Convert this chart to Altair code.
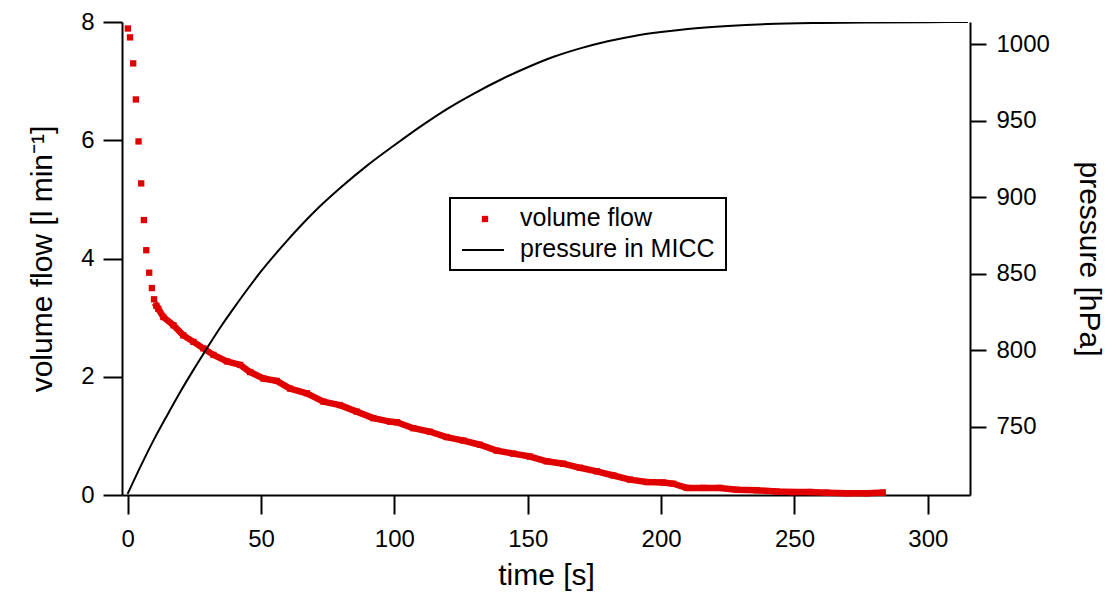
import altair as alt
import pandas as pd

# ---- data ----
flow_time = [0.1, 0.9, 2.1, 3.1, 4.1, 5.1, 6.1, 7.0, 8.1, 9.1, 9.9, 10.8,
             11.5, 13.4, 17.2, 20.9, 24.7, 28.4, 32.2, 37.2, 42.2, 45.9, 50.9, 55.9,
             60.9, 67.2, 73.4, 79.6, 85.9, 92.1, 98.4, 101.0, 107.1, 113.4, 119.6,
             125.9, 132.1, 138.4, 144.6, 150.9, 157.1, 163.3, 169.6, 175.9, 182.1,
             188.3, 194.6, 200.8, 204.6, 209.6, 215.8, 222.0, 228.3, 235.8, 243.3,
             249.6, 255.8, 262.0, 269.6, 277.0, 283.0]
flow_value = [7.89, 7.74, 7.30, 6.69, 5.98, 5.27, 4.65, 4.14, 3.76, 3.50, 3.31, 3.20,
              3.15, 3.01, 2.87, 2.70, 2.59, 2.48, 2.37, 2.26, 2.20, 2.08, 1.97, 1.93,
              1.80, 1.72, 1.58, 1.52, 1.41, 1.30, 1.24, 1.23, 1.13, 1.07, 0.98,
              0.92, 0.85, 0.75, 0.70, 0.65, 0.57, 0.53, 0.46, 0.40, 0.33,
              0.26, 0.22, 0.21, 0.19, 0.12, 0.12, 0.12, 0.09, 0.08, 0.06,
              0.05, 0.05, 0.04, 0.03, 0.03, 0.04]

pres_time = [0, 5, 10, 15, 20, 25, 30, 35, 40, 45, 50, 55, 60, 65, 70, 80, 90, 100,
             110, 120, 130, 140, 150, 160, 170, 180, 190, 200, 210, 225, 240,
             260, 280, 300, 315]
pres_value = [706, 724.5, 742, 758, 773.5, 788, 802, 815.5, 828, 840, 851.5, 862, 872,
              881.5, 890.5, 906.5, 921, 934, 946.5, 958, 968, 977, 985, 992, 997.5, 1002,
              1005.5, 1008, 1010, 1012, 1013.3, 1014, 1014.3, 1014.5, 1014.6]

x_ticks = [0, 50, 100, 150, 200, 250, 300]
flow_ticks = [0, 2, 4, 6, 8]
pres_ticks = [750, 800, 850, 900, 950, 1000]
legend_labels = ["volume flow", "pressure in MICC"]

RED = "#e00000"
FONT = "Liberation Sans"

flow_df = pd.DataFrame({"t": flow_time, "v": flow_value})
pres_df = pd.DataFrame({"t": pres_time, "p": pres_value})

xscale = alt.Scale(domain=[-2.1, 315.8], nice=False, zero=False)
flow_scale = alt.Scale(domain=[0, 8], nice=False)

xenc = alt.X("t:Q", scale=xscale,
             axis=alt.Axis(title="time [s]", values=x_ticks, format="d", tickSize=19,
                           labelPadding=13, titlePadding=9))

flow_y = alt.Y("v:Q", scale=flow_scale,
               axis=alt.Axis(title="volume flow [l min⁻¹]", orient="left", format="d",
                             values=flow_ticks, tickSize=19, labelPadding=9,
                             titlePadding=23))

flow_pts = alt.Chart(flow_df).mark_point(
    shape="square", filled=True, size=40, color=RED, opacity=1
).encode(x=xenc, y=flow_y)

flow_band = alt.Chart(flow_df).transform_filter("datum.t >= 10.5").mark_line(
    color=RED, strokeWidth=6.5, strokeJoin="round", strokeCap="square"
).encode(x=alt.X("t:Q", scale=xscale), y=alt.Y("v:Q", scale=flow_scale))

flow_layer = alt.layer(flow_band, flow_pts)

pres_line = alt.Chart(pres_df).mark_line(
    color="black", strokeWidth=2, interpolate="monotone", clip=True
).encode(
    x=alt.X("t:Q", scale=xscale),
    y=alt.Y("p:Q", scale=alt.Scale(domain=[705.3, 1014.6], nice=False, zero=False),
            axis=alt.Axis(title="pressure [hPa]", orient="right", values=pres_ticks,
                          format="d", tickSize=16, labelPadding=10, titlePadding=24)),
)

leg_df = pd.DataFrame({"label": legend_labels, "row": [0, 1]})
leg_box = alt.Chart(leg_df).transform_filter("datum.row == 0").mark_rect(
    fill="white", stroke="black", strokeWidth=2
).encode(x=alt.value(328), x2=alt.value(604), y=alt.value(176), y2=alt.value(248))
leg_sq = alt.Chart(leg_df).transform_filter("datum.row == 0").mark_point(
    shape="square", filled=True, size=40, color=RED, opacity=1
).encode(x=alt.value(363), y=alt.value(197))
leg_ln = alt.Chart(leg_df).transform_filter("datum.row == 1").mark_rule(
    color="black", strokeWidth=2
).encode(x=alt.value(340), x2=alt.value(382), y=alt.value(228))
leg_t1 = alt.Chart(leg_df).transform_filter("datum.row == 0").mark_text(
    align="left", baseline="middle", fontSize=25, font=FONT, color="black"
).encode(x=alt.value(398), y=alt.value(196), text="label:N")
leg_t2 = alt.Chart(leg_df).transform_filter("datum.row == 1").mark_text(
    align="left", baseline="middle", fontSize=25, font=FONT, color="black"
).encode(x=alt.value(398), y=alt.value(227), text="label:N")

chart = alt.layer(
    flow_layer, pres_line, leg_box, leg_sq, leg_ln, leg_t1, leg_t2
).resolve_scale(y="independent").properties(
    width=848, height=473,
    autosize=alt.AutoSizeParams(type="none"),
    padding={"left": 114, "top": 14, "right": 138, "bottom": 97},
).configure(font=FONT).configure_view(stroke=None).configure_axis(
    grid=False, domainColor="black", domainWidth=2, tickColor="black", tickWidth=2,
    labelFont=FONT, titleFont=FONT, labelFontSize=24, titleFontSize=30,
    labelColor="black", titleColor="black", titleFontWeight="normal",
    labelFlush=False, labelOverlap=False,
)

chart.save("out.html", embed_options={"renderer": "svg", "actions": False})
